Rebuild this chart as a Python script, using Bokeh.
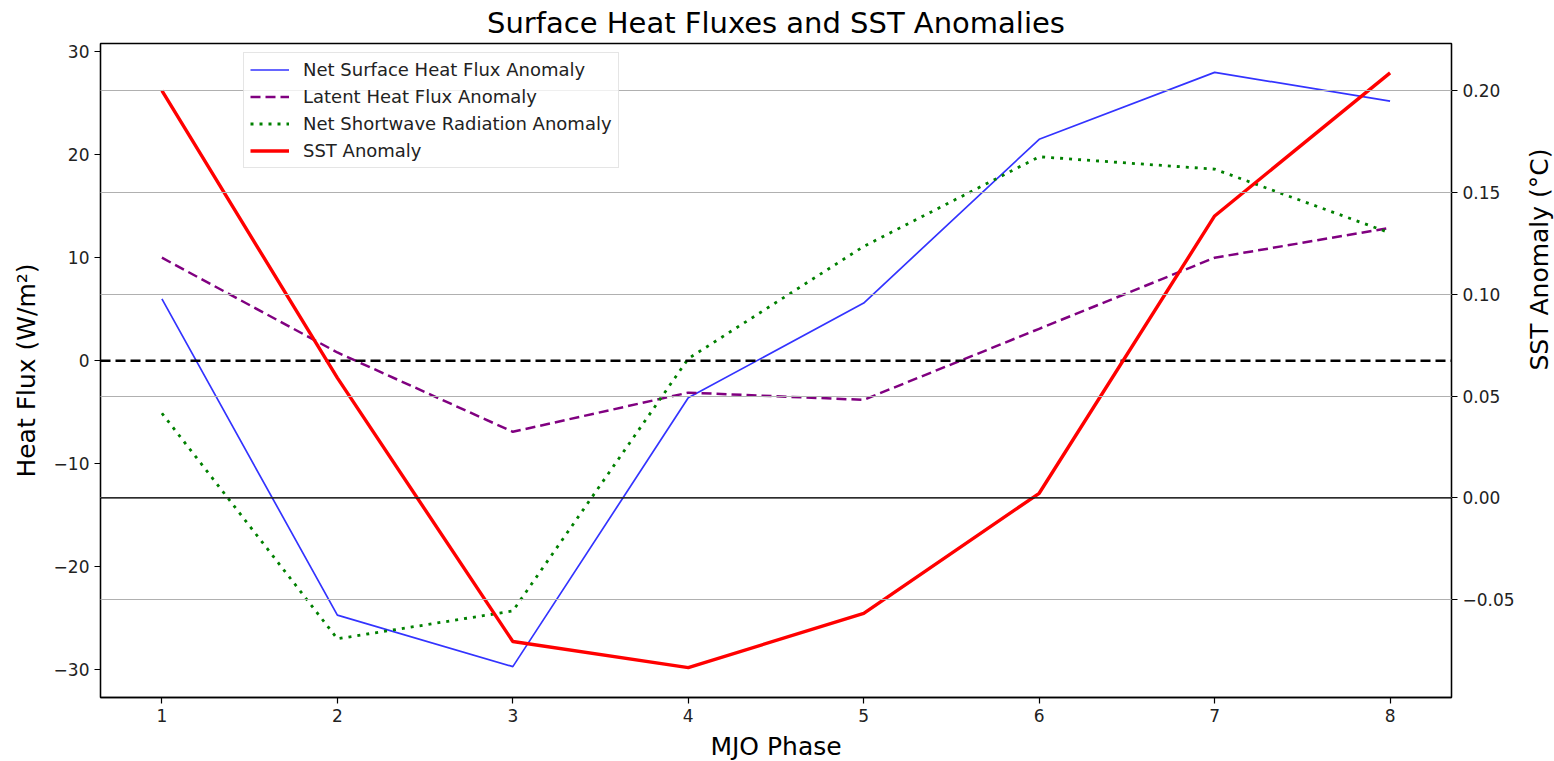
import math
from bokeh.plotting import figure
from bokeh.models import (Range1d, LinearAxis, FixedTicker, Grid, Span, Legend, LegendItem,
                          CustomJSTickFormatter)
from bokeh.embed import file_html
from bokeh.resources import INLINE

# ---- data ----
phases = [1, 2, 3, 4, 5, 6, 7, 8]
net_flux = [6.0, -24.7, -29.7, -3.6, 5.6, 21.5, 28.0, 25.2]
latent_flux = [10.0, 0.8, -6.9, -3.1, -3.8, 3.1, 10.0, 12.9]
shortwave_flux = [-5.1, -27.0, -24.3, 0.2, 11.1, 19.8, 18.6, 12.4]
sst_anom = [0.200, 0.059, -0.0705, -0.0833, -0.0567, 0.0023, 0.1385, 0.2088]

flux_ticks = [-30, -20, -10, 0, 10, 20, 30]
sst_ticks = [-0.05, 0.0, 0.05, 0.10, 0.15, 0.20]
phase_ticks = [1, 2, 3, 4, 5, 6, 7, 8]

FONT = "DejaVu Sans"

p = figure(frame_width=1351, frame_height=654,
           min_border_left=100, min_border_right=100, min_border_top=43, min_border_bottom=62,
           x_range=Range1d(0.65, 8.35), y_range=Range1d(-32.7, 30.8),
           output_backend="svg", toolbar_location=None,
           title="Surface Heat Fluxes and SST Anomalies")
p.extra_y_ranges = {"sst": Range1d(-0.098, 0.2232)}

p.title.text_font = FONT
p.title.text_font_size = "29px"
p.title.text_font_style = "normal"
p.title.align = "center"
p.title.vertical_align = "top"
p.title.text_color = "black"
p.title.standoff = 4

p.outline_line_color = "black"
p.outline_line_width = 1.3
p.outline_line_alpha = 1.0
p.xgrid.visible = False
p.ygrid.visible = False

# right axis
raxis = LinearAxis(y_range_name="sst", axis_label="SST Anomaly (°C)")
p.add_layout(raxis, "right")
raxis.axis_label_orientation = math.pi / 2

minus_int = CustomJSTickFormatter(code="return tick < 0 ? '\u2212' + Math.abs(tick) : tick.toString();")
minus_2 = CustomJSTickFormatter(code="const s = Math.abs(tick).toFixed(2); return tick < -1e-9 ? '\u2212' + s : s;")

p.xaxis.ticker = FixedTicker(ticks=phase_ticks)
p.yaxis[0].ticker = FixedTicker(ticks=flux_ticks)
p.yaxis[0].formatter = minus_int
raxis.ticker = FixedTicker(ticks=sst_ticks)
raxis.formatter = minus_2

p.xaxis.axis_label = "MJO Phase"
p.yaxis[0].axis_label = "Heat Flux (W/m²)"

for ax in [p.xaxis[0], p.yaxis[0], raxis]:
    ax.axis_line_color = "black"
    ax.axis_line_width = 1.3
    ax.major_tick_line_color = "black"
    ax.major_tick_line_width = 1.2
    ax.major_tick_out = 6
    ax.major_tick_in = 0
    ax.minor_tick_line_color = None
    ax.major_label_text_font = FONT
    ax.major_label_text_font_size = "17px"
    ax.major_label_text_color = "#222222"
    ax.major_label_standoff = 5
    ax.axis_label_text_font = FONT
    ax.axis_label_text_font_size = "25px"
    ax.axis_label_text_font_style = "normal"
    ax.axis_label_text_color = "black"
    ax.axis_label_standoff = 10
raxis.axis_label_standoff = 22
p.xaxis[0].axis_label_standoff = 7

# flux-axis content
p.add_layout(Span(location=0, dimension="width", line_color="black", line_width=2.5,
                  line_dash="10 5"))
r1 = p.line(phases, net_flux, line_color="blue", line_alpha=0.8, line_width=1.7)
r2 = p.line(phases, latent_flux, line_color="purple", line_width=2.5, line_dash="10 5")
r3 = p.line(phases, shortwave_flux, line_color="green", line_width=2.8, line_dash="3 6")

# SST-axis content drawn on top (as a twin axis)
p.add_layout(Grid(dimension=1, ticker=FixedTicker(ticks=sst_ticks), y_range_name="sst",
                  grid_line_color="#b0b0b0", grid_line_width=1.2, level="overlay"))
p.add_layout(Span(location=0, dimension="width", y_range_name="sst", line_color="black",
                  line_alpha=0.75, line_width=1.8, level="overlay"))
r4 = p.line(phases, sst_anom, line_color="red", line_width=3.4, y_range_name="sst",
            level="overlay")

legend = Legend(items=[
    LegendItem(label="Net Surface Heat Flux Anomaly", renderers=[r1]),
    LegendItem(label="Latent Heat Flux Anomaly", renderers=[r2]),
    LegendItem(label="Net Shortwave Radiation Anomaly", renderers=[r3]),
    LegendItem(label="SST Anomaly", renderers=[r4]),
], location=(143, 529))
legend.label_text_font = FONT
legend.label_text_font_size = "18px"
legend.label_text_color = "#222222"
legend.label_height = 21
legend.glyph_height = 21
legend.glyph_width = 39
legend.label_standoff = 14
legend.spacing = 6
legend.padding = 6
legend.margin = 0
legend.border_line_color = "#cccccc"
legend.border_line_width = 1.2
legend.background_fill_alpha = 0.8
legend.level = "annotation"
p.add_layout(legend, "center")

open("out.html", "w").write(file_html(p, INLINE))
